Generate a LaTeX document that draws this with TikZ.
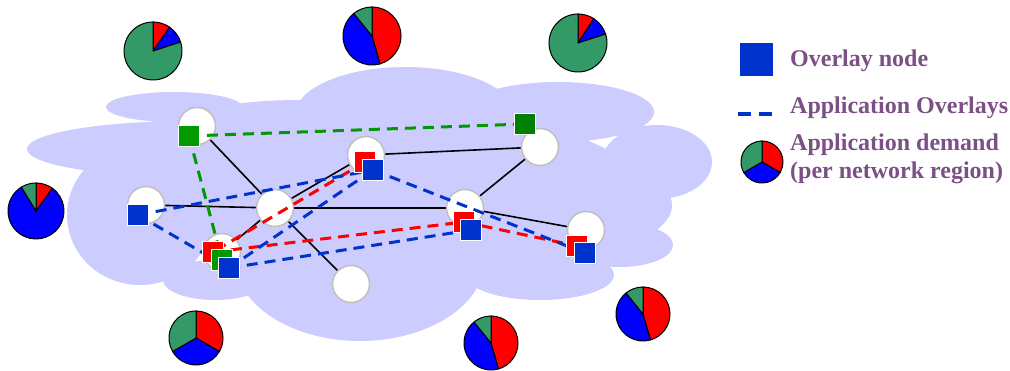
\documentclass[tikz,border=0pt]{standalone}
\usepackage{fontspec}
\setmainfont{Liberation Serif}
\definecolor{cloudc}{RGB}{204,204,255}
\definecolor{ovblue}{HTML}{0033CC}
\definecolor{ovred}{HTML}{FF0000}
\definecolor{ovgreen}{HTML}{009900}
\definecolor{ovgreendk}{HTML}{008000}
\definecolor{pred}{HTML}{FF0000}
\definecolor{pblue}{HTML}{0000FF}
\definecolor{pgreen}{HTML}{339966}
\definecolor{legc}{RGB}{123,80,133}
\definecolor{routeredge}{HTML}{C0C0C0}
\pgfdeclarelayer{cloudl}
\pgfdeclarelayer{linkl}
\pgfdeclarelayer{ovl}
\pgfdeclarelayer{sql}
\pgfsetlayers{cloudl,linkl,main,ovl,sql}
\tikzset{
  router/.style={circle, minimum size=37pt, inner sep=0pt, fill=white, draw=routeredge, line width=1.5pt},
  link/.style={line width=1.6pt, black},
  ovsq/.style={rectangle, minimum size=21pt, inner sep=0pt, draw=white, line width=1.5pt},
  bsq/.style={ovsq, fill=ovblue},
  rsq/.style={ovsq, fill=ovred},
  gsq/.style={ovsq, fill=ovgreen},
  ovline/.style={line width=3pt, dash pattern=on 11pt off 7pt},
  pieedge/.style={draw=black, line width=1pt},
  legtext/.style={anchor=base west, inner sep=0pt, text=legc, font=\fontsize{24}{28}\selectfont\bfseries}
}
% pie chart: x, y, radius, end of red slice, end of blue slice (degrees, clockwise from top)
\newcommand\demandpie[5]{%
  \begin{scope}[shift={(#1,#2)}, y=1pt]
    \filldraw[pieedge, fill=pred] (0,0) -- (90:#3) arc[start angle=90, end angle=#4, radius=#3] -- cycle;
    \filldraw[pieedge, fill=pblue] (0,0) -- (#4:#3) arc[start angle=#4, end angle=#5, radius=#3] -- cycle;
    \filldraw[pieedge, fill=pgreen] (0,0) -- (#5:#3) arc[start angle=#5, end angle=-270, radius=#3] -- cycle;
  \end{scope}}
\begin{document}
\begin{tikzpicture}[x=1pt, y=-1pt]
\useasboundingbox (0,0) rectangle (1010,371);

% network cloud
\begin{pgfonlayer}{cloudl}
  \fill[cloudc]
    (174,107) ellipse [x radius=68, y radius=15]
    (300,130) ellipse [x radius=130, y radius=30]
    (190,149) ellipse [x radius=163, y radius=28]
    (405,115) ellipse [x radius=110, y radius=48]
    (558,112) ellipse [x radius=96, y radius=30]
    (657,162) ellipse [x radius=55, y radius=37]
    (600,205) ellipse [x radius=72, y radius=40]
    (620,245) ellipse [x radius=53, y radius=22]
    (540,275) ellipse [x radius=74, y radius=25]
    (360,259) ellipse [x radius=125, y radius=82]
    (215,280) ellipse [x radius=52, y radius=20]
    (140,215) ellipse [x radius=73, y radius=70]
    (400,200) ellipse [x radius=250, y radius=90];
\end{pgfonlayer}

% routers
\node[router] (r1) at (197,126) {};
\node[router] (r2) at (366,155) {};
\node[router] (r3) at (540,147) {};
\node[router] (r4) at (146,205) {};
\node[router] (r5) at (275,208) {};
\node[router] (r6) at (465,208) {};
\node[router] (r7) at (586,230) {};
\node[router] (r8) at (222,252) {};
\node[router] (r9) at (351,284) {};

% physical links
\begin{pgfonlayer}{linkl}
  \draw[link] (r1) -- (r5);
  \draw[link] (r5) -- (r2);
  \draw[link] (r2) -- (r3);
  \draw[link] (r3) -- (r6);
  \draw[link] (r4) -- (r5);
  \draw[link] (r5) -- (r6);
  \draw[link] (r6) -- (r7);
  \draw[link] (r5) -- (r8);
  \draw[link] (r5) -- (r9);
\end{pgfonlayer}

% overlay nodes
\begin{pgfonlayer}{sql}
  \node[rsq] (re1) at (365,162) {};
  \node[rsq] (re2) at (213,252) {};
  \node[rsq] (re3) at (464,222) {};
  \node[rsq] (re4) at (577,246) {};
  \node[gsq] (g1) at (189,136) {};
  \node[gsq, fill=ovgreendk] (g2) at (525,124) {};
  \node[gsq] (g3) at (222,260) {};
  \node[bsq] (b1) at (373,170) {};
  \node[bsq] (b2) at (138,215) {};
  \node[bsq] (b3) at (229,268) {};
  \node[bsq] (b4) at (471,230) {};
  \node[bsq] (b5) at (585,253) {};
\end{pgfonlayer}

% application overlays
\begin{pgfonlayer}{ovl}
  \draw[ovline, ovgreen] (g1.center) -- (g2.center);
  \draw[ovline, ovgreen] (g1.center) -- (g3.center);
  \draw[ovline, ovred] (re1.center) -- (re2.center);
  \draw[ovline, ovred] (re2.center) -- (re3.center);
  \draw[ovline, ovred] (re3.center) -- (re4.center);
  \draw[ovline, ovblue] (b2.center) -- (b1.center);
  \draw[ovline, ovblue] (b2.center) -- (b3.center);
  \draw[ovline, ovblue] (b3.center) -- (b1.center);
  \draw[ovline, ovblue] (b3.center) -- (b4.center);
  \draw[ovline, ovblue] (b1.center) -- (b5.center);
\end{pgfonlayer}

% demand per region
\demandpie{153}{51}{29}{55}{18}
\demandpie{372}{36}{29}{-74}{-231}
\demandpie{578}{43}{29}{57}{18}
\demandpie{36}{211}{28}{54}{-238.5}
\demandpie{196}{338}{27}{-30}{-150}
\demandpie{491}{343}{27}{-74}{-231}
\demandpie{643}{314}{27}{-74}{-231}

% legend
\node[rectangle, minimum size=33pt, inner sep=0pt, fill=ovblue] (legsq) at (756,60) {};
\node[legtext] (leg1) at (790,66.7) {Overlay node};
\coordinate (lega) at (738,114);
\coordinate (legb) at (772,114);
\draw[line width=3.3pt, ovblue, dash pattern=on 13pt off 8pt] (lega) -- (legb);
\node[legtext] (leg2) at (790,114) {Application Overlays};
\demandpie{762}{162}{21}{-30}{-150}
\node[legtext] (leg3) at (790,150.7) {Application demand};
\node[legtext] (leg4) at (790,179) {(per network region)};
\end{tikzpicture}
\end{document}
